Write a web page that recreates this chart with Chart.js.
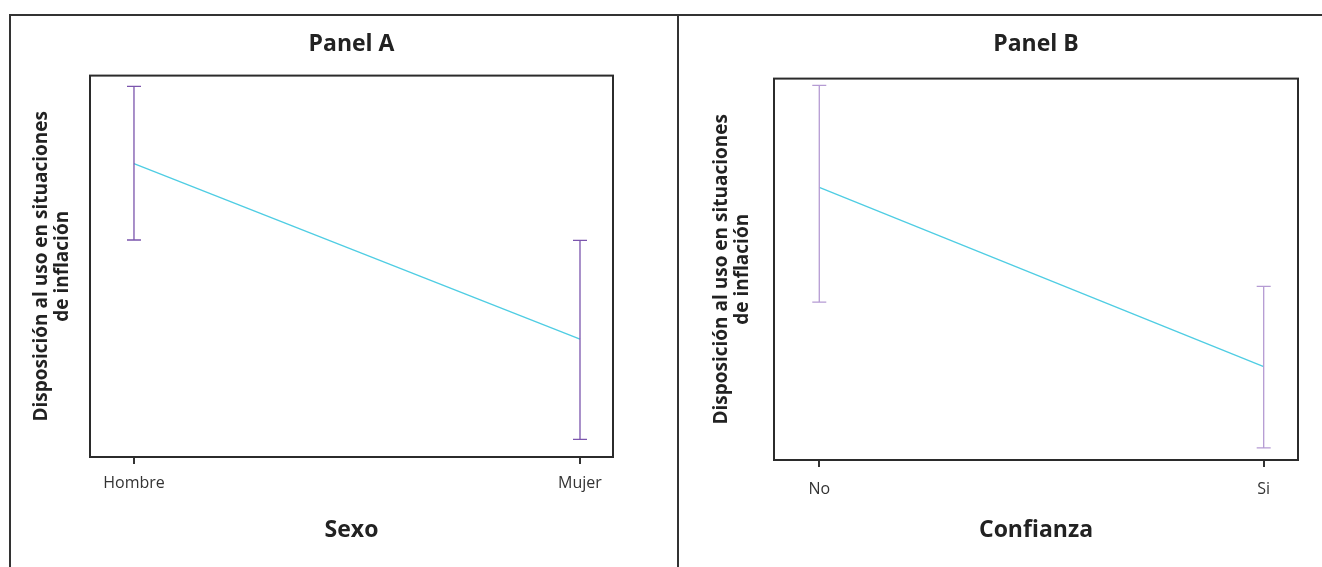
<!DOCTYPE html>
<html lang="es">
<head>
<meta charset="utf-8">
<title>Disposición al uso en situaciones de inflación</title>
<script src="https://cdn.jsdelivr.net/npm/chart.js@4.4.1/dist/chart.umd.min.js"></script>
<style>
  html, body { margin: 0; padding: 0; background: #ffffff; }
  body { width: 1322px; height: 567px; position: relative; overflow: hidden; }
  .rule { position: absolute; background: #333333; }
  canvas { position: absolute; }
</style>
</head>
<body>
<div class="rule" style="left:9px; top:14px; width:1313px; height:2px;"></div>
<div class="rule" style="left:9px; top:14px; width:2px; height:553px;"></div>
<div class="rule" style="left:677px; top:14px; width:2px; height:553px;"></div>
<canvas id="panelA" width="664" height="550" style="left:11px; top:17px;"></canvas>
<canvas id="panelB" width="643" height="550" style="left:679px; top:17px;"></canvas>
<script>
// Panel A: by sex
const sexoCategorias = ['Hombre', 'Mujer'];
const sexoMedia      = [0.769, 0.309];
const sexoInferior   = [0.569, 0.046];
const sexoSuperior   = [0.972, 0.568];

// Panel B: by trust
const confianzaCategorias = ['No', 'Si'];
const confianzaMedia      = [0.715, 0.245];
const confianzaInferior   = [0.414, 0.032];
const confianzaSuperior   = [0.982, 0.455];

const yTitulo = ['Disposición al uso en situaciones', 'de inflación'];

const FONT = '"Open Sans", "DejaVu Sans", sans-serif';
const LINE_COLOR = '#4fcde3';

// Frame around the plotting area
const frameBox = {
  id: 'frameBox',
  afterDraw(chart) {
    const { ctx, chartArea: a } = chart;
    ctx.save();
    ctx.strokeStyle = '#2b2b2b';
    ctx.lineWidth = 2;
    ctx.strokeRect(a.left, a.top, a.right - a.left, a.bottom - a.top);
    ctx.restore();
  }
};

// Vertical intervals with caps, placed through the chart scales
const intervalBars = {
  id: 'intervalBars',
  afterDatasetsDraw(chart, args, opts) {
    const { ctx } = chart;
    const xs = chart.scales.x, ys = chart.scales.y;
    ctx.save();
    ctx.strokeStyle = opts.color;
    ctx.lineWidth = 1.3;
    opts.lower.forEach((lo, i) => {
      const x = xs.getPixelForValue(i);
      const y1 = ys.getPixelForValue(opts.upper[i]);
      const y2 = ys.getPixelForValue(lo);
      ctx.beginPath();
      ctx.moveTo(x, y1); ctx.lineTo(x, y2);
      ctx.moveTo(x - 7, y1); ctx.lineTo(x + 7, y1);
      ctx.moveTo(x - 7, y2); ctx.lineTo(x + 7, y2);
      ctx.stroke();
    });
    ctx.restore();
  }
};

function makePanel(id, cfg) {
  const pts = cfg.media.map((v, i) => ({ x: i, y: v }));
  return new Chart(document.getElementById(id), {
    type: 'line',
    data: {
      datasets: [{
        data: pts,
        borderColor: LINE_COLOR,
        borderWidth: 1.3,
        pointRadius: 0,
        tension: 0,
        fill: false
      }]
    },
    options: {
      responsive: false,
      animation: false,
      devicePixelRatio: 1,
      layout: { padding: { left: 0, right: cfg.padRight, top: 0, bottom: 0 } },
      plugins: {
        legend: { display: false },
        tooltip: { enabled: false },
        title: {
          display: true,
          text: cfg.titulo,
          fullSize: false,
          color: '#222222',
          font: { family: FONT, size: 23, weight: 'bold', lineHeight: 1.2 },
          padding: { top: 14, bottom: cfg.titlePadBottom }
        },
        intervalBars: { lower: cfg.inferior, upper: cfg.superior, color: cfg.barColor }
      },
      scales: {
        x: {
          type: 'linear',
          min: cfg.xMin,
          max: cfg.xMax,
          afterBuildTicks: (s) => { s.ticks = cfg.categorias.map((_, i) => ({ value: i })); },
          afterFit: (s) => { s.height = cfg.xHeight; },
          ticks: {
            autoSkip: false,
            maxRotation: 0,
            padding: cfg.tickPad,
            color: '#333333',
            font: { family: FONT, size: 16, lineHeight: 1.2 },
            callback: (v) => cfg.categorias[v]
          },
          grid: {
            display: true,
            drawOnChartArea: false,
            drawTicks: true,
            tickLength: 7,
            color: '#333333',
            lineWidth: 2
          },
          border: { display: false },
          title: {
            display: true,
            text: cfg.xTitulo,
            color: '#222222',
            font: { family: FONT, size: 23, weight: 'bold', lineHeight: 1.2 },
            padding: { top: 0, bottom: 23 }
          }
        },
        y: {
          type: 'linear',
          min: 0,
          max: 1,
          afterFit: (s) => { s.width = cfg.yWidth; },
          ticks: { display: false },
          grid: { display: false },
          border: { display: false },
          title: {
            display: true,
            text: yTitulo,
            color: '#222222',
            font: { family: FONT, size: 19, weight: 'bold', lineHeight: 1.1 },
            padding: { top: cfg.yTitlePad, bottom: 0 }
          }
        }
      }
    },
    plugins: [frameBox, intervalBars]
  });
}

makePanel('panelA', {
  titulo: 'Panel A',
  xTitulo: 'Sexo',
  categorias: sexoCategorias,
  media: sexoMedia,
  inferior: sexoInferior,
  superior: sexoSuperior,
  barColor: '#7b55ad',
  xMin: -0.0986, xMax: 1.074,
  padRight: 62, xHeight: 110, yWidth: 79, yTitlePad: 20,
  titlePadBottom: 17, tickPad: 10
});

makePanel('panelB', {
  titulo: 'Panel B',
  xTitulo: 'Confianza',
  categorias: confianzaCategorias,
  media: confianzaMedia,
  inferior: confianzaInferior,
  superior: confianzaSuperior,
  barColor: '#b59bd3',
  xMin: -0.1019, xMax: 1.0772,
  padRight: 24, xHeight: 107, yWidth: 95, yTitlePad: 32,
  titlePadBottom: 20, tickPad: 13
});
</script>
</body>
</html>
